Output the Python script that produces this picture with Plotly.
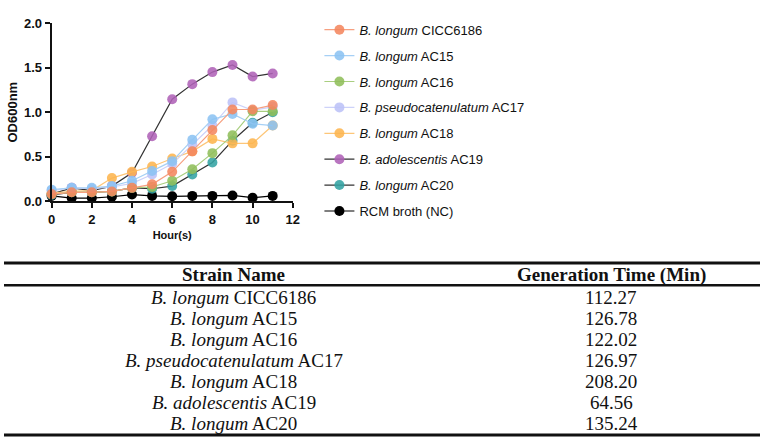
import plotly.graph_objects as go

W, H = 767, 445

hours = list(range(12))

legend_labels = ["<i>B. longum</i> CICC6186", "<i>B. longum</i> AC15",
                 "<i>B. longum</i> AC16", "<i>B. pseudocatenulatum</i> AC17",
                 "<i>B. longum</i> AC18", "<i>B. adolescentis</i> AC19",
                 "<i>B. longum</i> AC20", "RCM broth (NC)"]

od_cicc6186 = [0.08, 0.10, 0.10, 0.11, 0.15, 0.19, 0.33, 0.56, 0.80, 1.03, 1.03, 1.08]
od_ac15 = [0.13, 0.15, 0.15, 0.17, 0.23, 0.34, 0.45, 0.69, 0.92, 0.98, 0.87, 0.85]
od_ac16 = [0.08, 0.10, 0.10, 0.11, 0.15, 0.16, 0.23, 0.36, 0.54, 0.74, 1.01, 1.01]
od_ac17 = [0.12, 0.15, 0.14, 0.16, 0.20, 0.30, 0.42, 0.64, 0.85, 1.11, 1.02, 1.06]
od_ac18 = [0.09, 0.11, 0.12, 0.26, 0.33, 0.39, 0.48, 0.56, 0.70, 0.65, 0.65, 0.85]
od_ac19 = [0.08, 0.15, 0.12, 0.17, 0.32, 0.73, 1.145, 1.315, 1.45, 1.53, 1.40, 1.435]
od_ac20 = [0.07, 0.10, 0.10, 0.11, 0.15, 0.14, 0.17, 0.30, 0.435, 0.68, 0.88, 1.00]
od_rcm = [0.06, 0.035, 0.035, 0.05, 0.075, 0.06, 0.055, 0.06, 0.06, 0.065, 0.04, 0.06]

series = [od_cicc6186, od_ac15, od_ac16, od_ac17, od_ac18, od_ac19, od_ac20, od_rcm]
marker_colors = ["#F4865E", "#8CC3F2", "#8FBE5A", "#BCC2F7", "#FDB54E",
                 "#AF62B7", "#33A3A3", "#000000"]
line_colors = ["#F6A080", "#A6D0F5", "#A9CE80", "#CDD2F9", "#FDC678",
               "#333333", "#333333", "#000000"]

table_names = ["<i>B. longum</i> CICC6186", "<i>B. longum</i> AC15",
               "<i>B. longum</i> AC16", "<i>B. pseudocatenulatum</i> AC17",
               "<i>B. longum</i> AC18", "<i>B. adolescentis</i> AC19",
               "<i>B. longum</i> AC20"]
gen_times = ["112.27", "126.78", "122.02", "126.97", "208.20", "64.56", "135.24"]

fig = go.Figure()
# draw in reverse so the first series ends up on top; legend ordered by rank
for i in reversed(range(len(series))):
    fig.add_trace(go.Scatter(
        x=hours, y=series[i], mode="lines+markers", name=legend_labels[i],
        legendgroup="g%d" % i, legendrank=i + 1,
        line=dict(color=line_colors[i], width=1.2),
        marker=dict(color=marker_colors[i], size=10,
                    opacity=1.0 if i == 7 else 0.88),
        cliponaxis=False,
    ))

def px_x(p):
    return p / W

def px_y(p):
    return 1 - p / H

tick_font = dict(family="Liberation Sans", size=13, color="#111111")

fig.update_layout(
    width=W, height=H, margin=dict(l=0, r=0, t=0, b=0),
    paper_bgcolor="white", plot_bgcolor="white",
    font=dict(family="Liberation Sans", color="#111111"),
    xaxis=dict(domain=[px_x(48.3), px_x(293)], range=[0, 12],
               tickvals=[0, 2, 4, 6, 8, 10, 12],
               ticktext=["<b>%d</b>" % v for v in [0, 2, 4, 6, 8, 10, 12]],
               showgrid=False, zeroline=False, showline=True,
               linecolor="#111111", linewidth=2, ticks="outside",
               ticklen=5, tickwidth=2, tickcolor="#111111",
               tickfont=tick_font,
               title=dict(text="<b>Hour(s)</b>", font=dict(size=11),
                          standoff=5)),
    yaxis=dict(domain=[px_y(201), px_y(16.7)], range=[0, 2],
               tickvals=[0, 0.5, 1.0, 1.5, 2.0],
               ticktext=["<b>%.1f</b>" % v for v in [0, 0.5, 1.0, 1.5, 2.0]],
               showgrid=False, zeroline=False, showline=True,
               linecolor="#111111", linewidth=2, ticks="outside",
               ticklen=5, tickwidth=2, tickcolor="#111111",
               tickfont=tick_font,
               title=dict(text="<b>OD600nm</b>", font=dict(size=13),
                          standoff=3)),
    legend=dict(x=px_x(320), xanchor="left", y=px_y(8), yanchor="top",
                traceorder="grouped", tracegroupgap=6,
                font=dict(family="Liberation Sans", size=13, color="#111111"),
                bgcolor="rgba(0,0,0,0)"),
    showlegend=True,
)

# Table rules
shapes = []
for yline, w in [(265, 3), (288, 2.5), (443, 3)]:
    shapes.append(dict(type="line", xref="paper", yref="paper",
                       x0=0, x1=1, y0=px_y(yline), y1=px_y(yline),
                       line=dict(color="#111111", width=w)))
fig.update_layout(shapes=shapes)

serif = "Liberation Serif"
fs = 19
col1, col2 = 233, 616
ann = []
for cx, txt in [(col1, "<b>Strain Name</b>"), (col2, "<b>Generation Time (Min)</b>")]:
    ann.append(dict(x=px_x(cx), y=px_y(277), xref="paper", yref="paper",
                    text=txt, showarrow=False,
                    font=dict(family=serif, size=fs, color="#111111"),
                    xanchor="center", yanchor="middle"))
row0, step = 301, 21.67
for i, (nm, gt) in enumerate(zip(table_names, gen_times)):
    yy = row0 + i * step
    for cx, txt in [(col1, nm), (col2, gt)]:
        ann.append(dict(x=px_x(cx), y=px_y(yy), xref="paper", yref="paper",
                        text=txt, showarrow=False,
                        font=dict(family=serif, size=fs, color="#111111"),
                        xanchor="center", yanchor="middle"))
fig.update_layout(annotations=ann)

fig.write_html("out.html")
